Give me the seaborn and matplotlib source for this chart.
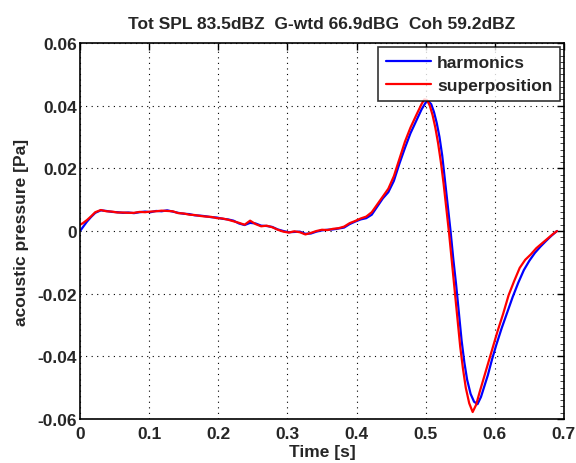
import numpy as np
import pandas as pd
import matplotlib
matplotlib.use("Agg")
import matplotlib.pyplot as plt
import seaborn as sns
from matplotlib.ticker import MultipleLocator

title = "Tot SPL 83.5dBZ  G-wtd 66.9dBG  Coh 59.2dBZ"
series_names = ["harmonics", "superposition"]

t_harm = [0.000, 0.004, 0.010, 0.016, 0.022, 0.030, 0.038, 0.046, 0.054, 0.062,
          0.070, 0.078, 0.086, 0.094, 0.102, 0.110, 0.118, 0.126, 0.134, 0.142,
          0.150, 0.158, 0.166, 0.174, 0.182, 0.190, 0.198, 0.206, 0.214, 0.222,
          0.230, 0.238, 0.246, 0.254, 0.262, 0.270, 0.278, 0.286, 0.294, 0.302,
          0.310, 0.318, 0.326, 0.334, 0.342, 0.350, 0.358, 0.366, 0.374, 0.382,
          0.390, 0.398, 0.406, 0.414, 0.422, 0.430, 0.438, 0.446, 0.454, 0.462,
          0.470, 0.478, 0.486, 0.494, 0.500, 0.504, 0.508, 0.512, 0.516, 0.520,
          0.524, 0.528, 0.532, 0.536, 0.540, 0.544, 0.548, 0.552, 0.556, 0.560,
          0.565, 0.570, 0.575, 0.580, 0.585, 0.590, 0.596, 0.602, 0.610, 0.618,
          0.626, 0.634, 0.642, 0.650, 0.658, 0.666, 0.674, 0.682, 0.690]
p_harm = [0.0000, 0.0012, 0.0030, 0.0045, 0.0058, 0.0066, 0.0064, 0.0061, 0.0060, 0.0058,
          0.0059, 0.0057, 0.0060, 0.0062, 0.0060, 0.0064, 0.0063, 0.0066, 0.0062, 0.0058,
          0.0055, 0.0054, 0.0050, 0.0049, 0.0047, 0.0044, 0.0043, 0.0039, 0.0037, 0.0033,
          0.0024, 0.0019, 0.0026, 0.0024, 0.0017, 0.0016, 0.0013, 0.0005, 0.0000, -0.0004,
          -0.0003, -0.0002, -0.0009, -0.0008, -0.0002, 0.0002, 0.0004, 0.0005, 0.0008, 0.0011,
          0.0022, 0.0030, 0.0037, 0.0041, 0.0052, 0.0078, 0.0104, 0.0124, 0.0160, 0.0215,
          0.0265, 0.0312, 0.0350, 0.0388, 0.0410, 0.0414, 0.0405, 0.0380, 0.0345, 0.0300,
          0.0240, 0.0160, 0.0080, 0.0000, -0.0090, -0.0170, -0.0260, -0.0350, -0.0420, -0.0475,
          -0.0520, -0.0545, -0.0553, -0.0530, -0.0495, -0.0460, -0.0410, -0.0365, -0.0310, -0.0260,
          -0.0210, -0.0165, -0.0125, -0.0095, -0.0070, -0.0050, -0.0032, -0.0015, 0.0000]

t_sup = [0.000, 0.004, 0.010, 0.016, 0.022, 0.030, 0.038, 0.046, 0.054, 0.062,
         0.070, 0.078, 0.086, 0.094, 0.102, 0.110, 0.118, 0.126, 0.134, 0.142,
         0.150, 0.158, 0.166, 0.174, 0.182, 0.190, 0.198, 0.206, 0.214, 0.222,
         0.230, 0.238, 0.246, 0.254, 0.262, 0.270, 0.278, 0.286, 0.294, 0.302,
         0.310, 0.318, 0.326, 0.334, 0.342, 0.350, 0.358, 0.366, 0.374, 0.382,
         0.390, 0.398, 0.406, 0.414, 0.422, 0.430, 0.438, 0.446, 0.454, 0.462,
         0.470, 0.478, 0.486, 0.494, 0.498, 0.502, 0.506, 0.510, 0.514, 0.518,
         0.522, 0.526, 0.530, 0.534, 0.538, 0.542, 0.546, 0.550, 0.554, 0.558,
         0.563, 0.568, 0.573, 0.578, 0.584, 0.590, 0.596, 0.604, 0.612, 0.620,
         0.628, 0.636, 0.644, 0.652, 0.660, 0.668, 0.676, 0.684, 0.690]
p_sup = [0.0020, 0.0025, 0.0035, 0.0047, 0.0060, 0.0067, 0.0063, 0.0062, 0.0059, 0.0059,
         0.0058, 0.0058, 0.0061, 0.0060, 0.0062, 0.0063, 0.0065, 0.0064, 0.0063, 0.0057,
         0.0056, 0.0052, 0.0051, 0.0048, 0.0046, 0.0045, 0.0041, 0.0040, 0.0036, 0.0031,
         0.0026, 0.0020, 0.0033, 0.0022, 0.0015, 0.0017, 0.0012, 0.0004, -0.0002, -0.0005,
         -0.0001, -0.0004, -0.0011, -0.0006, 0.0000, 0.0004, 0.0003, 0.0007, 0.0009, 0.0014,
         0.0025, 0.0032, 0.0040, 0.0046, 0.0060, 0.0085, 0.0110, 0.0135, 0.0175, 0.0230,
         0.0285, 0.0330, 0.0368, 0.0405, 0.0420, 0.0418, 0.0400, 0.0370, 0.0330, 0.0280,
         0.0220, 0.0150, 0.0070, -0.0010, -0.0100, -0.0190, -0.0280, -0.0370, -0.0440, -0.0500,
         -0.0550, -0.0578, -0.0555, -0.0515, -0.0470, -0.0425, -0.0380, -0.0320, -0.0265, -0.0205,
         -0.0160, -0.0118, -0.0092, -0.0075, -0.0055, -0.0040, -0.0025, -0.0010, 0.0000]

x_ticks = [0, 0.1, 0.2, 0.3, 0.4, 0.5, 0.6, 0.7]
x_labels = ["0", "0.1", "0.2", "0.3", "0.4", "0.5", "0.6", "0.7"]
y_ticks = [-0.06, -0.04, -0.02, 0, 0.02, 0.04, 0.06]
y_labels = ["-0.06", "-0.04", "-0.02", "0", "0.02", "0.04", "0.06"]

sns.set_style("white")
plt.rcParams['font.family'] = ['Liberation Sans', 'DejaVu Sans']

FS = 12.5
fig = plt.figure(figsize=(5.76, 4.64), dpi=100)
ax = fig.add_axes([0.139, 0.095, 0.840, 0.810])

df_h = pd.DataFrame({"t": t_harm, "p": p_harm})
df_s = pd.DataFrame({"t": t_sup, "p": p_sup})
sns.lineplot(data=df_h, x="t", y="p", ax=ax, color="#0000ff", lw=1.6,
             sort=False, estimator=None, label=series_names[0])
sns.lineplot(data=df_s, x="t", y="p", ax=ax, color="#ff0000", lw=1.6,
             sort=False, estimator=None, label=series_names[1])

ax.set_xlim(0, 0.7)
ax.set_ylim(-0.06, 0.06)
ax.set_xticks(x_ticks)
ax.set_xticklabels(x_labels, fontsize=FS, fontweight='bold')
ax.set_yticks(y_ticks)
ax.set_yticklabels(y_labels, fontsize=FS, fontweight='bold')
ax.tick_params(direction='in', length=5, width=1, top=True, right=True, color='black')
ax.tick_params(axis='x', pad=5)
ax.tick_params(axis='y', pad=2)
ax.yaxis.set_minor_locator(MultipleLocator(0.002))
ax.tick_params(which='minor', direction='in', length=3, left=False, right=True)
ax.grid(True, which='major', linestyle=(0, (1, 4)), color='black', linewidth=0.8)
for s in ax.spines.values():
    s.set_color('black')
    s.set_linewidth(1.2)

ax.set_xlabel("Time [s]", fontsize=FS, fontweight='bold', labelpad=2)
ax.set_ylabel("acoustic pressure [Pa]", fontsize=FS, fontweight='bold', labelpad=6)
ax.set_title(title, fontsize=FS, fontweight='bold', pad=11)

leg = ax.legend(loc='upper right', frameon=True, fancybox=False,
                edgecolor='black', handlelength=2.6, handletextpad=0.35,
                borderaxespad=0.22, borderpad=0.45,
                prop={'weight': 'bold', 'size': FS}, labelspacing=0.45)
leg.get_frame().set_linewidth(1.2)

fig.savefig("out.png", dpi=100, facecolor='white')
